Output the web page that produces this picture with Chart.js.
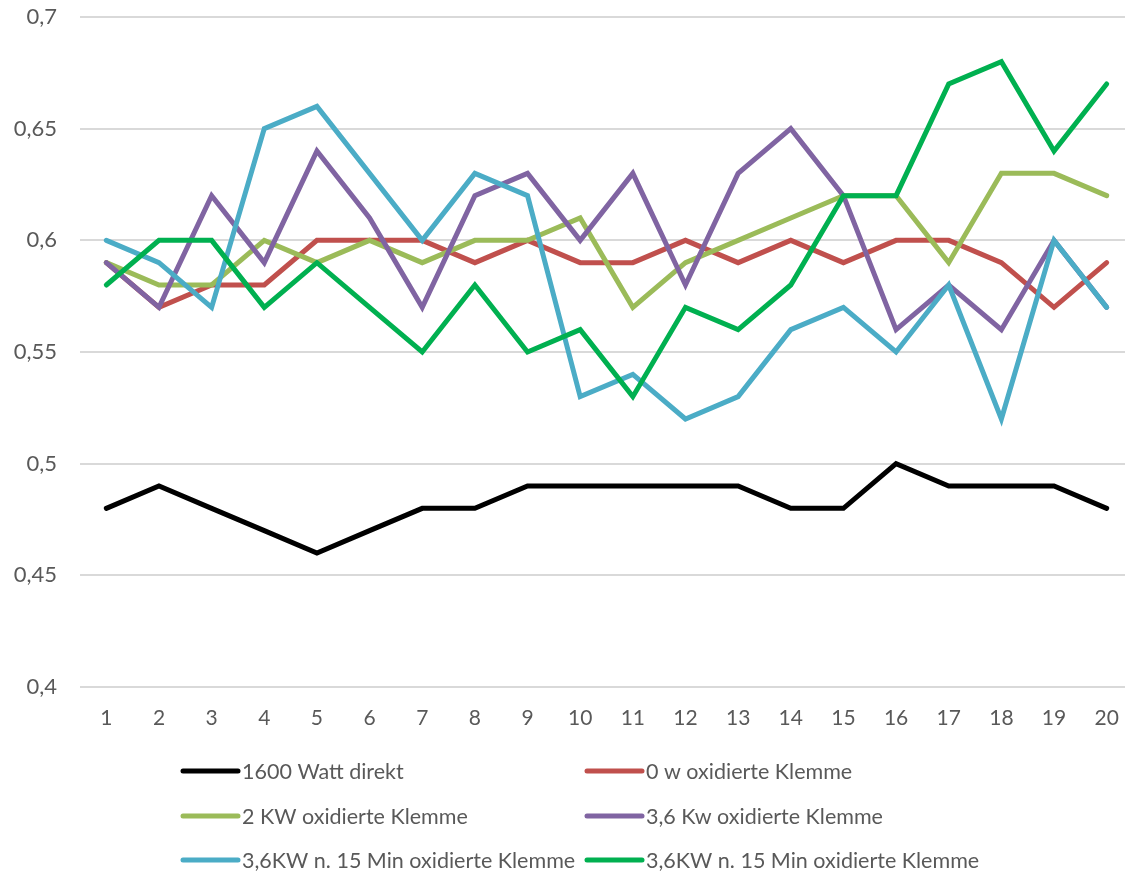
<!DOCTYPE html>
<html>
<head>
<meta charset="utf-8">
<script src="https://cdn.jsdelivr.net/npm/chart.js@4.4.1/dist/chart.umd.min.js"></script>
<style>
  html, body { margin: 0; padding: 0; background: #fff; overflow: hidden; }
  #wrap { position: relative; width: 1135px; height: 872px; }
</style>
</head>
<body>
<div id="wrap"><canvas id="c"></canvas></div>
<script>
// Messpunkte 1..20
const categories = ['1','2','3','4','5','6','7','8','9','10','11','12','13','14','15','16','17','18','19','20'];

const seriesNames = [
  '1600 Watt direkt',
  '0 w oxidierte Klemme',
  '2 KW oxidierte Klemme',
  '3,6 Kw oxidierte Klemme',
  '3,6KW n. 15 Min oxidierte Klemme',
  '3,6KW n. 15 Min oxidierte Klemme'
];

const watt1600 = [0.48,0.49,0.48,0.47,0.46,0.47,0.48,0.48,0.49,0.49,0.49,0.49,0.49,0.48,0.48,0.50,0.49,0.49,0.49,0.48];
const w0Oxid   = [0.59,0.57,0.58,0.58,0.60,0.60,0.60,0.59,0.60,0.59,0.59,0.60,0.59,0.60,0.59,0.60,0.60,0.59,0.57,0.59];
const kw2Oxid  = [0.59,0.58,0.58,0.60,0.59,0.60,0.59,0.60,0.60,0.61,0.57,0.59,0.60,0.61,0.62,0.62,0.59,0.63,0.63,0.62];
const kw36Oxid = [0.59,0.57,0.62,0.59,0.64,0.61,0.57,0.62,0.63,0.60,0.63,0.58,0.63,0.65,0.62,0.56,0.58,0.56,0.60,0.57];
const kw36Min15a = [0.60,0.59,0.57,0.65,0.66,0.63,0.60,0.63,0.62,0.53,0.54,0.52,0.53,0.56,0.57,0.55,0.58,0.52,0.60,0.57];
const kw36Min15b = [0.58,0.60,0.60,0.57,0.59,0.57,0.55,0.58,0.55,0.56,0.53,0.57,0.56,0.58,0.62,0.62,0.67,0.68,0.64,0.67];

const yTicks = [0.4, 0.45, 0.5, 0.55, 0.6, 0.65, 0.7];

const seriesValues = [watt1600, w0Oxid, kw2Oxid, kw36Oxid, kw36Min15a, kw36Min15b];
const seriesColors = ['#000000', '#c0504d', '#9bbb59', '#8064a2', '#4bacc6', '#00b050'];

const FONT = 'Lato, "Open Sans", sans-serif';
const TEXT = '#595959';

// Two-column legend below the plot
const gridLegend = {
  id: 'gridLegend',
  afterDraw(chart) {
    const ctx = chart.ctx;
    const cols = [{ x0: 183, x1: 238, tx: 242 }, { x0: 587, x1: 642, tx: 646 }];
    const rows = [771, 816, 860];
    ctx.save();
    ctx.font = '21.5px ' + FONT;
    ctx.textBaseline = 'middle';
    ctx.textAlign = 'left';
    chart.data.datasets.forEach((ds, i) => {
      const c = cols[i % 2];
      const y = rows[Math.floor(i / 2)];
      ctx.strokeStyle = ds.borderColor;
      ctx.lineWidth = 5;
      ctx.lineCap = 'round';
      ctx.beginPath();
      ctx.moveTo(c.x0, y);
      ctx.lineTo(c.x1, y);
      ctx.stroke();
      ctx.fillStyle = TEXT;
      ctx.fillText(ds.label, c.tx, y + 1);
    });
    ctx.restore();
  }
};

const datasets = seriesValues.map((vals, i) => ({
  label: seriesNames[i],
  data: vals,
  borderColor: seriesColors[i],
  backgroundColor: seriesColors[i],
  borderWidth: 5,
  pointRadius: 0,
  tension: 0,
  fill: false,
  borderCapStyle: 'round',
  borderJoinStyle: 'miter',
  order: seriesValues.length - i
}));

new Chart(document.getElementById('c'), {
  type: 'line',
  data: { labels: categories, datasets },
  plugins: [gridLegend],
  options: {
    responsive: true,
    maintainAspectRatio: false,
    animation: false,
    layout: { padding: { top: 17, right: 2, left: 0, bottom: 0 } },
    plugins: { legend: { display: false }, tooltip: { enabled: false } },
    scales: {
      x: {
        offset: true,
        grid: { display: false, drawTicks: false },
        border: { display: false },
        ticks: { color: TEXT, font: { family: FONT, size: 21 }, padding: 19, maxRotation: 0, autoSkip: false },
        afterFit(scale) { scale.height = 185; scale.paddingLeft = 0; scale.paddingRight = 0; }
      },
      y: {
        min: 0.4,
        max: 0.7,
        afterBuildTicks(scale) { scale.ticks = yTicks.map(v => ({ value: v })); },
        grid: { color: '#d9d9d9', lineWidth: 2, drawTicks: false },
        border: { display: false },
        ticks: {
          color: TEXT,
          font: { family: FONT, size: 22 },
          padding: 23,
          callback: v => String(Math.round(v * 100) / 100).replace('.', ',')
        },
        afterFit(scale) { scale.width = 80; scale.paddingTop = 0; scale.paddingBottom = 0; }
      }
    }
  }
});
</script>
</body>
</html>
